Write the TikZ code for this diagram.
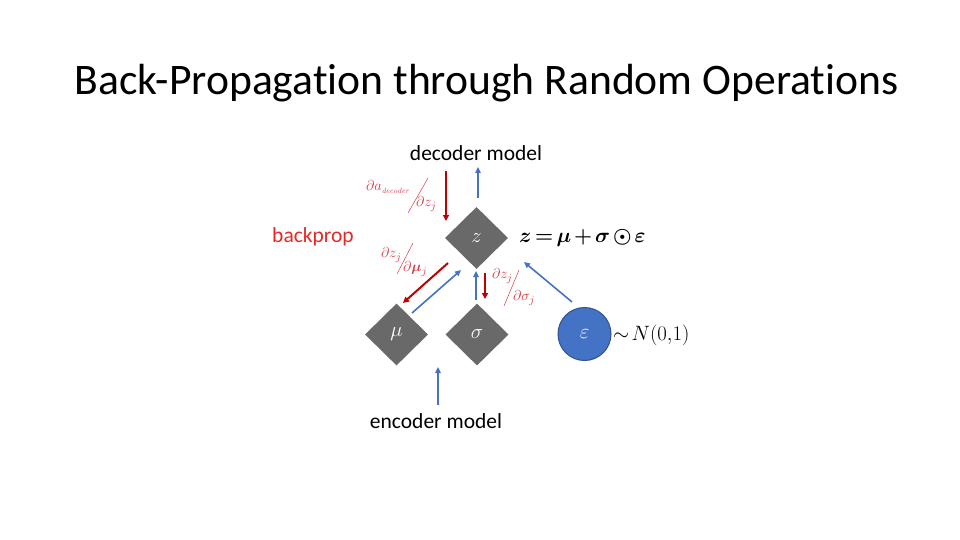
\documentclass[tikz,border=0pt]{standalone}
\usepackage{amsmath,bm}
\usepackage{fontspec}
\newfontfamily\calib{Carlito}[Ligatures={NoCommon}]
\usetikzlibrary{shapes.geometric,arrows.meta}
\definecolor{bpred}{RGB}{192,0,0}
\definecolor{lbred}{RGB}{214,58,72}
\definecolor{txred}{RGB}{230,40,40}
\definecolor{bpblue}{RGB}{68,114,196}
\definecolor{bpblueD}{RGB}{47,82,143}
\definecolor{dgray}{RGB}{105,105,105}
\tikzset{
  opnode/.style={diamond,fill=dgray,minimum width=63pt,minimum height=62pt,inner sep=0pt,text=white,font=\fontsize{20}{20}\selectfont},
  rndnode/.style={circle,fill=bpblue,draw=bpblueD,line width=1pt,minimum size=53pt,inner sep=0pt,text=white,font=\fontsize{20}{20}\selectfont},
  fwd/.style={draw=bpblue,line width=1.6pt,-{Triangle[length=6pt,width=5.5pt]}},
  bwd/.style={draw=bpred,line width=2pt,-{Triangle[length=6pt,width=6pt]}},
  lbl/.style={text=lbred,font=\fontsize{15}{15}\selectfont,inner sep=0pt},
  slashl/.style={draw=lbred,line width=0.5pt},
  captext/.style={font=\calib\fontsize{21.5}{21.5}\selectfont,inner sep=0pt}
}
\begin{document}
\begin{tikzpicture}[x=1pt,y=-1pt]
\useasboundingbox[fill=white] (0,0) rectangle (960,540);
\node[font=\calib\fontsize{43.6}{43.6}\selectfont,inner sep=0pt,anchor=base] (title) at (486.5,95) {Back-Propagation through Random Operations};

\node[captext] (dec) at (476,153) {decoder model};
\node[captext] (enc) at (436,421) {encoder model};
\node[captext,text=txred] (bp) at (313,237) {backprop};

\node[opnode] (z) at (476.5,238) {$z$};
\node[opnode] (mu) at (396.5,334.5) {$\mu$};
\node[opnode] (sig) at (477,334.5) {$\sigma$};
\node[rndnode] (eps) at (584.5,334) {$\varepsilon$};

\node[anchor=west,inner sep=0pt,font=\fontsize{20}{20}\selectfont] (eq) at (519,238) {$\medmuskip=2.5mu\thickmuskip=3mu\boldsymbol{z=\mu+\sigma\odot\varepsilon}$};
\node[anchor=west,inner sep=0pt,font=\fontsize{21}{21}\selectfont] (dist) at (613,335) {$\sim\!N(0{,}1)$};

% connector coordinates
\coordinate (r1s) at (446,171); \coordinate (r1e) at (446,221);
\coordinate (b1s) at (478,198); \coordinate (b1e) at (478,167);
\coordinate (r2s) at (448,263); \coordinate (r2e) at (403,303);
\coordinate (b2s) at (412,313); \coordinate (b2e) at (461,270);
\coordinate (b3s) at (476,300); \coordinate (b3e) at (476,271);
\coordinate (r3s) at (485,273); \coordinate (r3e) at (485,299);
\coordinate (b4s) at (572,302); \coordinate (b4e) at (524,262);
\coordinate (b5s) at (438,405); \coordinate (b5e) at (438,367);

\draw[bwd] (r1s) -- (r1e);
\draw[fwd] (b1s) -- (b1e);
\draw[bwd] (r2s) -- (r2e);
\draw[fwd] (b2s) -- (b2e);
\draw[fwd] (b3s) -- (b3e);
\draw[bwd] (r3s) -- (r3e);
\draw[fwd] (b4s) -- (b4e);
\draw[fwd] (b5s) -- (b5e);

% derivative labels
\node[lbl,anchor=west] (n1) at (366,187) {$\partial a_{\scriptscriptstyle\mathit{decoder}}$};
\coordinate (s1a) at (428,178); \coordinate (s1b) at (408,213);
\draw[slashl] (s1a) -- (s1b);
\node[lbl,anchor=west] (d1) at (416,204) {$\partial z_j$};

\node[lbl,anchor=west] (n2) at (381,255) {$\partial z_j$};
\coordinate (s2a) at (413,243); \coordinate (s2b) at (397,274);
\draw[slashl] (s2a) -- (s2b);
\node[lbl,anchor=west] (d2) at (403,269) {$\partial \bm{\mu}_j$};

\node[lbl,anchor=west] (n3) at (492,276) {$\partial z_j$};
\coordinate (s3a) at (519,270); \coordinate (s3b) at (504,306);
\draw[slashl] (s3a) -- (s3b);
\node[lbl,anchor=west] (d3) at (513,298) {$\partial \sigma_j$};
\end{tikzpicture}
\end{document}
